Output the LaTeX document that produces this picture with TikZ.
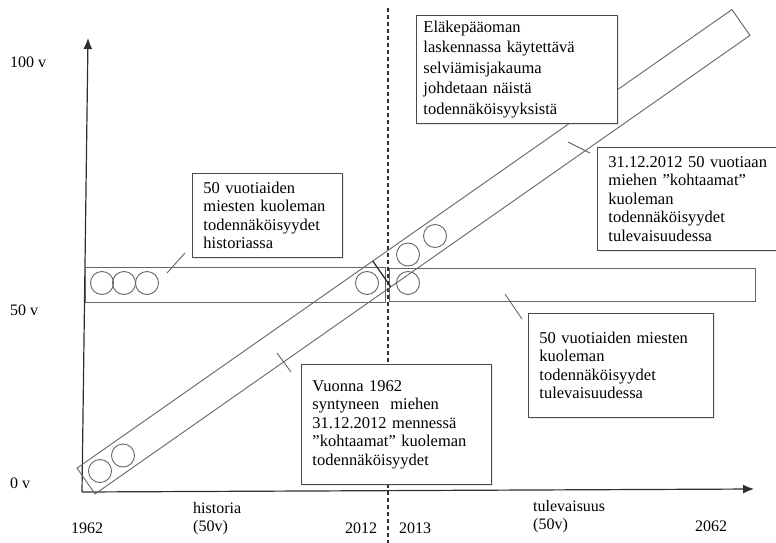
\documentclass[tikz,border=0pt]{standalone}
\usepackage{fontspec}
\setmainfont{Liberation Serif}
\usetikzlibrary{arrows.meta,shadows}
\definecolor{bandcol}{HTML}{666666}
\definecolor{boxcol}{HTML}{4A4A4A}
\definecolor{axcol}{HTML}{2E2E2E}
\begin{document}
\begin{tikzpicture}[x=1pt,y=-1pt,
  lbl/.style={font=\fontsize{16}{18}\selectfont, inner sep=0pt},
  textbox/.style={draw=boxcol, fill=white, line width=0.9pt,
    font=\fontsize{16.5}{18.5}\selectfont, align=left,
    inner xsep=11pt, inner ysep=0pt, anchor=north west,
    execute at begin node={\hyphenpenalty=10000\exhyphenpenalty=10000\hbadness=10000\hfuzz=50pt},
    drop shadow={opacity=0.18, shadow xshift=1.2pt, shadow yshift=-1.2pt}},
  bandline/.style={draw=bandcol, line width=0.9pt},
  ring/.style={draw=bandcol, line width=0.9pt, circle, minimum size=23pt, inner sep=0pt},
  callout/.style={draw=bandcol, line width=0.9pt},
  axis/.style={draw=axcol, line width=1.2pt, -{Latex[length=11pt,width=9pt]}},
]
\useasboundingbox (0,0) rectangle (776,543);

% dashed separator
\coordinate (dtop) at (388,8);
\coordinate (dbot) at (388,543);
\draw[axcol, line width=1.2pt, dash pattern=on 4pt off 3pt] (dtop) -- (dbot);

% axes
\coordinate (origin) at (82,492);
\coordinate (yend) at (88,38);
\coordinate (xend) at (754,489);
\draw[axis] (origin) -- (yend);
\draw[axis] (origin) -- (xend);

% horizontal bands
\node[bandline, minimum width=300pt, minimum height=35pt, inner sep=0pt, anchor=north west] (histband) at (85,267) {};
\node[bandline, minimum width=366pt, minimum height=33pt, inner sep=0pt, anchor=north west] (futband) at (389,268) {};

% diagonal band
\node[bandline, minimum width=799.5pt, minimum height=31.5pt, inner sep=0pt, rotate=35] (diag) at (413.5,251.75) {};

% circles
\node[ring] (h1) at (102,283) {};
\node[ring] (h2) at (124,283) {};
\node[ring] (h3) at (147,283) {};
\node[ring] (h4) at (367,283) {};
\node[ring] (f1) at (408,283) {};
\node[ring] (d1) at (100,471) {};
\node[ring] (d2) at (123,455.5) {};
\node[ring] (d3) at (408,254.5) {};
\node[ring] (d4) at (435,236) {};

% cut across the diagonal band at 2012
\coordinate (cutA) at (372.7,260.9);
\coordinate (cutB) at (390.7,286.7);
\draw[axcol, line width=1.3pt] (cutA) -- (cutB);

% text boxes
\node[textbox, font=\fontsize{16.5}{20.5}\selectfont, inner xsep=7pt, text width=187pt, minimum height=108pt] (top) at (416,15)
  {Eläkepääoman\\laskennassa käytettävä\\selviämisjakauma\\johdetaan näistä\\todennäköisyyksistä};
\node[textbox, text width=128pt, minimum height=84pt] (hist) at (192,173)
  {50 vuotiaiden\\miesten kuoleman\\todennäköisyydet\\historiassa};
\node[textbox, text width=160pt, minimum height=103pt] (meet) at (597,147)
  {31.12.2012 50 vuotiaan\\miehen ”kohtaamat”\\kuoleman\\todennäköisyydet\\tulevaisuudessa};
\node[textbox, text width=163pt, minimum height=104pt] (fut) at (528,313)
  {50 vuotiaiden miesten\\kuoleman\\todennäköisyydet\\tulevaisuudessa};
\node[textbox, text width=168pt, minimum height=120pt] (born) at (301,364)
  {Vuonna 1962\\syntyneen\ \ miehen\\31.12.2012 mennessä\\”kohtaamat” kuoleman\\todennäköisyydet};

% callout lines
\coordinate (histA) at (185,253);
\coordinate (histB) at (167,273);
\draw[callout] (histA) -- (histB);
\coordinate (futA) at (505,294);
\coordinate (futB) at (522,319);
\draw[callout] (futA) -- (futB);
\coordinate (meetA) at (568,142);
\coordinate (meetB) at (590,153);
\draw[callout] (meetA) -- (meetB);
\coordinate (bornA) at (277,353);
\coordinate (bornB) at (291,372);
\draw[callout] (bornA) -- (bornB);

% axis labels
\node[lbl, anchor=base west] (l100) at (10,67) {100 v};
\node[lbl, anchor=base west] (l50) at (10,315) {50 v};
\node[lbl, anchor=base west] (l0) at (10,488) {0 v};
\node[lbl, anchor=base] (y1962) at (87,533) {1962};
\node[lbl, anchor=base] (y2012) at (361,533) {2012};
\node[lbl, anchor=base] (y2013) at (415,533) {2013};
\node[lbl, anchor=base] (y2062) at (711,531) {2062};
\node[lbl, anchor=north west, align=left] (historia) at (193,502) {historia\\(50v)};
\node[lbl, anchor=north west, align=left] (tulev) at (533,500) {tulevaisuus\\(50v)};
\end{tikzpicture}
\end{document}
